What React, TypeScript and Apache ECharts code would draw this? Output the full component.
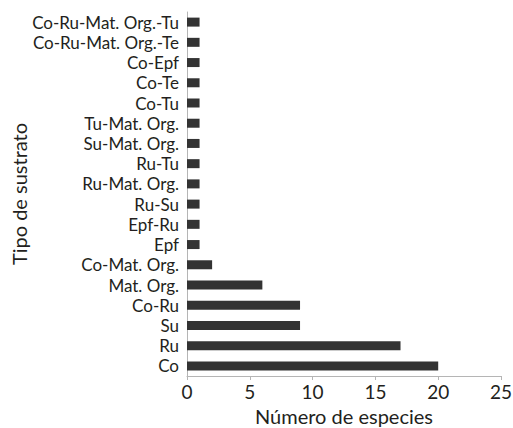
import React, { useEffect, useRef } from "react";
import * as echarts from "echarts";

const categories = [
  "Co", "Ru", "Su", "Co-Ru", "Mat. Org.", "Co-Mat. Org.", "Epf", "Epf-Ru",
  "Ru-Su", "Ru-Mat. Org.", "Ru-Tu", "Su-Mat. Org.", "Tu-Mat. Org.", "Co-Tu",
  "Co-Te", "Co-Epf", "Co-Ru-Mat. Org.-Te", "Co-Ru-Mat. Org.-Tu",
];
const values = [20, 17, 9, 9, 6, 2, 1, 1, 1, 1, 1, 1, 1, 1, 1, 1, 1, 1];
const xTicks = { min: 0, max: 25, interval: 5 };

const FONT = "Lato";

export default function App() {
  const ref = useRef<HTMLDivElement>(null);
  useEffect(() => {
    if (!ref.current) return;
    const chart = echarts.init(ref.current, null, { renderer: "svg" });
    chart.setOption({
      animation: false,
      backgroundColor: "#ffffff",
      grid: { left: 187, right: 12, top: 12, bottom: 52, containLabel: false, outerBoundsMode: "none" },
      xAxis: {
        type: "value",
        min: xTicks.min,
        max: xTicks.max,
        interval: xTicks.interval,
        name: "Número de especies",
        nameLocation: "middle",
        nameGap: 30,
        nameMoveOverlap: false,
        nameTextStyle: { fontFamily: FONT, fontSize: 20, color: "#231f20" },
        axisLine: { show: true, lineStyle: { color: "#b5b5b5", width: 1 } },
        axisTick: { show: true, length: 4, lineStyle: { color: "#b5b5b5" } },
        axisLabel: { fontFamily: FONT, fontSize: 19, color: "#231f20", margin: 6 },
        splitLine: { show: false },
      },
      yAxis: {
        type: "category",
        data: categories,
        name: "Tipo de sustrato",
        nameLocation: "middle",
        nameGap: 158,
        nameMoveOverlap: false,
        nameRotate: 90,
        nameTextStyle: { fontFamily: FONT, fontSize: 20, color: "#231f20" },
        axisLine: { show: true, lineStyle: { color: "#b5b5b5", width: 1 } },
        axisTick: { show: false },
        axisLabel: { interval: 0, fontFamily: FONT, fontSize: 17, color: "#231f20", margin: 8 },
      },
      series: [
        {
          type: "bar",
          data: values,
          barWidth: 9,
          itemStyle: { color: "#333333" },
        },
      ],
    });
    return () => chart.dispose();
  }, []);
  return <div ref={ref} style={{ width: 513, height: 428, position: "absolute", left: 0, top: 0 }} />;
}
